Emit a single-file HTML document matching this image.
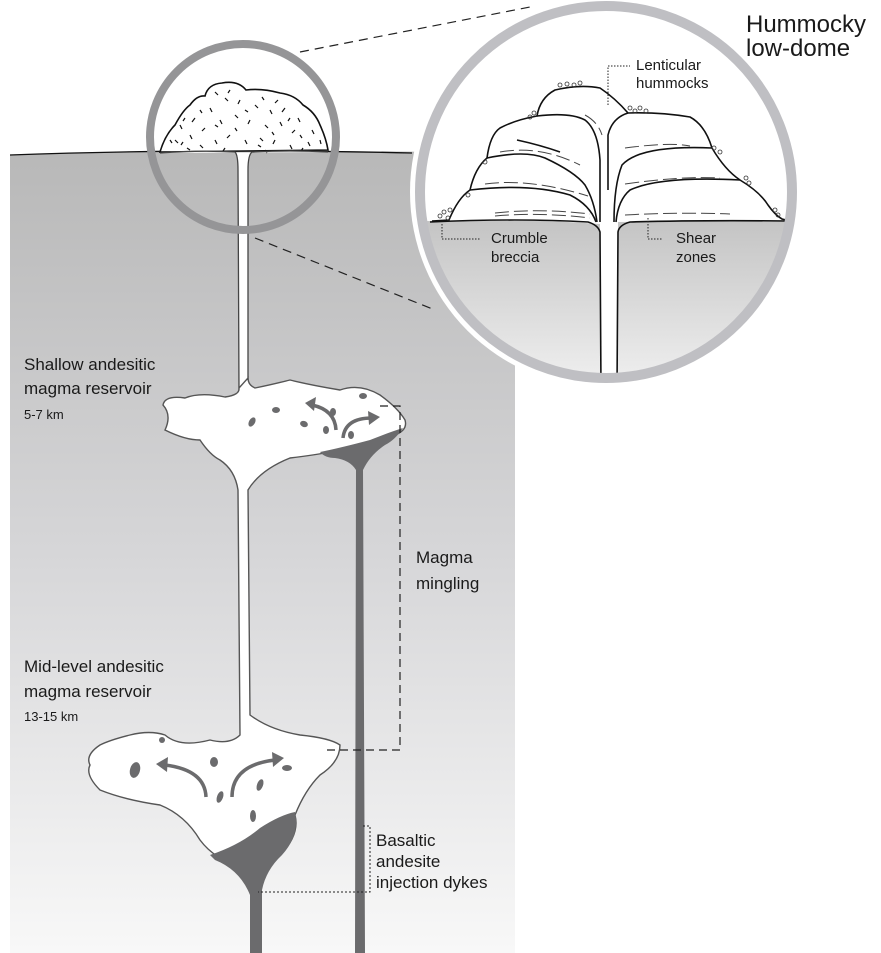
<!DOCTYPE html>
<html><head><meta charset="utf-8"><style>
html,body{margin:0;padding:0;background:#fff;}
svg{display:block;}
text{font-family:"Liberation Sans","DejaVu Sans",sans-serif;fill:#1a1a1a;}
</style></head><body>
<svg width="881" height="953" viewBox="0 0 881 953" xmlns="http://www.w3.org/2000/svg">
<defs>
<linearGradient id="crust" x1="0" y1="0" x2="0" y2="1">
<stop offset="0" stop-color="#b8b8b8"/><stop offset="0.5" stop-color="#d6d6d8"/><stop offset="1" stop-color="#f8f8f8"/>
</linearGradient>
<linearGradient id="crust2" x1="0" y1="0" x2="0" y2="1">
<stop offset="0" stop-color="#c4c4c4"/><stop offset="1" stop-color="#f4f4f4"/>
</linearGradient>
<clipPath id="bigc"><circle cx="606" cy="192" r="183"/></clipPath>
</defs>

<!-- crust -->
<path d="M10,155 Q200,148 515,153 L515,953 L10,953 Z" fill="url(#crust)"/>
<path d="M10,155 Q200,148 412,153" fill="none" stroke="#111" stroke-width="1.3"/>

<!-- dashed zoom lines -->
<line x1="300" y1="52" x2="535" y2="6" stroke="#222" stroke-width="1.2" stroke-dasharray="9,6"/>
<line x1="255" y1="238" x2="435" y2="310" stroke="#222" stroke-width="1.2" stroke-dasharray="9,6"/>

<!-- small dome -->
<path d="M160,152 Q165,135 175,125 Q183,110 190,105 Q197,95 205,96 Q208,84 222,83 Q238,80 246,90 Q262,88 280,93 Q295,95 303,105 Q315,112 320,125 Q326,138 328,150 Z" fill="#fff" stroke="#111" stroke-width="1.6"/>
<g stroke="#111" stroke-width="1.2">
<path d="M180,125l2,4M195,118l-3,4M210,108l2,4M225,98l3,3M240,100l-2,4M255,105l3,3M270,110l2,4M285,108l-3,4M298,118l2,4M312,130l2,4M175,140l3,3M190,135l2,4M205,128l-3,3M220,120l2,4M235,115l3,3M250,120l-2,4M265,125l3,3M280,122l2,4M295,130l-3,3M308,142l2,4M200,145l3,3M215,140l2,4M230,135l-3,3M245,140l2,4M260,138l3,3M275,140l-2,4M290,145l2,4M320,140l1,4M187,148l3,2M225,148l-2,3M265,150l2,3M215,92l3,3M230,90l-2,3M262,97l2,3M278,100l-3,3M200,110l2,3M245,110l3,2M290,118l-2,3M170,140l2,3M183,142l-2,3M258,145l3,2M303,148l-2,3M235,128l2,3M215,125l3,2M272,132l2,3M185,118l-2,3M300,135l2,3"/>
</g>
<!-- conduit top -->
<path d="M160,153 Q200,150 235,152 Q238,155 238,170 L239,390 L248,390 L248,170 Q248,155 252,152 Q290,150 328,152" fill="#fff" stroke="#444" stroke-width="1.3"/>
<circle cx="243" cy="137" r="93" fill="none" stroke="#959597" stroke-width="8"/>

<!-- reservoirs -->
<path d="M239,388 Q240,395 225,397 Q200,392 185,398 Q165,395 163,405 Q172,415 165,430 Q185,440 200,440 Q210,455 220,460 Q235,470 238,490 L240,735 Q230,745 210,740 Q180,748 165,735 Q150,730 130,735 Q110,740 100,745 Q85,755 90,765 Q85,775 100,790 Q125,800 160,805 Q185,815 200,840 Q215,860 240,865 Q262,870 280,855 Q300,835 295,815 Q305,790 320,775 Q340,762 340,745 Q330,738 300,735 Q270,730 250,715 L248,490 Q260,470 290,458 Q315,455 330,452 Q370,442 395,435 Q408,430 405,420 Q398,408 380,395 Q360,383 340,390 Q310,385 290,380 Q270,385 255,388 Q248,385 248,378 Z" fill="#fff" stroke="#555" stroke-width="1.4"/>
<path d="M320,452 Q340,448 370,440 Q390,432 403,428 Q395,440 385,445 Q370,455 363,470 L365,953 L355,953 L356,470 Q350,460 335,458 Q325,458 320,452 Z" fill="#6b6b6d"/>
<path d="M210,855 Q240,845 260,828 Q280,815 295,812 Q300,835 282,855 Q266,870 262,890 L262,953 L250,953 L250,895 Q240,870 215,860 Z" fill="#6b6b6d"/>

<g fill="#6b6b6d">
<ellipse cx="252" cy="422" rx="3" ry="5" transform="rotate(30 252 422)"/>
<ellipse cx="276" cy="410" rx="4" ry="3"/>
<ellipse cx="304" cy="424" rx="4" ry="3" transform="rotate(20 304 424)"/>
<ellipse cx="326" cy="430" rx="3" ry="4"/>
<ellipse cx="333" cy="412" rx="3" ry="4"/>
<ellipse cx="363" cy="396" rx="4" ry="3"/>
<ellipse cx="351" cy="435" rx="3" ry="4"/>
<ellipse cx="135" cy="770" rx="5" ry="8" transform="rotate(15 135 770)"/>
<ellipse cx="162" cy="740" rx="3" ry="3"/>
<ellipse cx="214" cy="762" rx="4" ry="5"/>
<ellipse cx="287" cy="768" rx="5" ry="3"/>
<ellipse cx="220" cy="797" rx="3" ry="6" transform="rotate(20 220 797)"/>
<ellipse cx="260" cy="785" rx="3" ry="6" transform="rotate(20 260 785)"/>
<ellipse cx="253" cy="816" rx="3" ry="6"/>
</g>
<g fill="none" stroke="#6b6b6d" stroke-width="3.5">
<path d="M336,430 Q335,410 312,405"/>
<path d="M343,438 Q345,418 372,418"/>
<path d="M206,797 Q205,770 165,765"/>
<path d="M232,797 Q232,765 275,760"/>
</g>
<g fill="#6b6b6d">
<path d="M305,403 L316,397 L314,411Z"/>
<path d="M380,417 L368,411 L369,425Z"/>
<path d="M156,764 L168,757 L167,772Z"/>
<path d="M284,758 L272,752 L273,767Z"/>
</g>

<path d="M380,406 L400,406 L400,750 L322,750" fill="none" stroke="#222" stroke-width="1.2" stroke-dasharray="8,5"/>
<path d="M363,826 L370,826 L370,892 L258,892" fill="none" stroke="#222" stroke-width="1" stroke-dasharray="2,2"/>

<!-- big circle -->
<circle cx="606" cy="192" r="196" fill="#fff"/>
<g clip-path="url(#bigc)">
<rect x="400" y="0" width="420" height="400" fill="#fff"/>
<rect x="400" y="221" width="420" height="180" fill="url(#crust2)"/>
<!-- silhouette -->
<path d="M432,221 L449,220 Q458,198 470,190 Q475,168 487,158 Q490,135 500,128 Q515,120 537,116 Q540,98 555,90 Q580,84 600,88 Q615,98 628,113 Q660,112 690,117 Q705,125 712,148 Q725,170 740,180 Q760,192 768,205 Q775,215 782,219 L790,221 Q700,220 618,222 L618,400 L600,400 L600,224 Q520,218 432,221 Z" fill="#fff"/>
<g fill="none" stroke="#111" stroke-width="1.6">
<path d="M432,221 L449,220 Q458,198 470,190 Q475,168 487,158 Q490,135 500,128 Q515,120 537,116 Q540,98 555,90 Q580,84 600,88 Q615,98 628,113 Q660,112 690,117 Q705,125 712,148 Q725,170 740,180 Q760,192 768,205 Q775,215 782,219 L790,221"/>
<path d="M430,222 Q520,218 588,222 Q598,225 600,232 L601,390"/>
<path d="M790,221 Q700,220 630,222 Q619,225 618,232 L617,390"/>
<path d="M470,190 Q530,183 570,195 Q590,205 596,222"/>
<path d="M487,158 Q525,150 545,158 Q575,172 585,185 Q594,200 597,222"/>
<path d="M537,116 Q570,112 585,120 Q598,130 600,160 L600,222"/>
<path d="M628,113 Q612,118 608,135 L608,190"/>
<path d="M712,148 Q640,145 622,165 Q614,185 614,222"/>
<path d="M740,180 Q660,176 630,190 Q618,200 616,222"/>
<path d="M517,140 Q540,145 560,152"/>
</g>
<g stroke="#444" stroke-width="1" fill="none" stroke-dasharray="14,5">
<path d="M495,216 Q540,212 590,218"/><path d="M495,213 Q540,208 590,214"/>
<path d="M485,184 Q530,178 588,196"/><path d="M500,152 Q540,145 580,165"/>
<path d="M625,215 Q680,212 730,214"/><path d="M625,184 Q680,176 720,178"/>
<path d="M625,148 Q670,142 690,146"/><path d="M585,115 Q598,122 602,135"/>
</g>
<g fill="none" stroke="#333" stroke-width="0.8">
<circle cx="440" cy="216" r="2"/><circle cx="444" cy="212" r="2"/><circle cx="448" cy="218" r="2"/><circle cx="450" cy="210" r="2"/>
<circle cx="468" cy="195" r="2"/><circle cx="485" cy="162" r="2"/><circle cx="530" cy="117" r="2"/><circle cx="534" cy="113" r="2"/>
<circle cx="560" cy="85" r="2"/><circle cx="567" cy="84" r="2"/><circle cx="574" cy="85" r="2"/><circle cx="580" cy="83" r="2"/>
<circle cx="630" cy="108" r="2"/><circle cx="635" cy="111" r="2"/><circle cx="640" cy="108" r="2"/><circle cx="646" cy="111" r="2"/>
<circle cx="714" cy="148" r="2"/><circle cx="720" cy="152" r="2"/><circle cx="746" cy="178" r="2"/><circle cx="749" cy="183" r="2"/>
<circle cx="775" cy="210" r="2"/><circle cx="778" cy="215" r="2"/>
</g>
<g stroke="#222" stroke-width="1" stroke-dasharray="1.5,1.5" fill="none">
<path d="M442,224 L442,239 L480,239"/>
<path d="M608,105 L608,66 L630,66"/>
<path d="M648,218 L648,239 L663,239"/>
</g>
</g>
<circle cx="606" cy="192" r="186" fill="none" stroke="#bfbfc3" stroke-width="10"/>

<text x="746" y="32" font-size="24">Hummocky</text>
<text x="746" y="56" font-size="24">low-dome</text>
<text x="636" y="70" font-size="15">Lenticular</text>
<text x="636" y="88" font-size="15">hummocks</text>
<text x="491" y="243" font-size="15">Crumble</text>
<text x="491" y="262" font-size="15">breccia</text>
<text x="676" y="243" font-size="15">Shear</text>
<text x="676" y="262" font-size="15">zones</text>

<text x="24" y="370" font-size="17">Shallow andesitic</text>
<text x="24" y="394" font-size="17">magma reservoir</text>
<text x="24" y="419" font-size="13">5-7 km</text>
<text x="24" y="672" font-size="17">Mid-level andesitic</text>
<text x="24" y="697" font-size="17">magma reservoir</text>
<text x="24" y="721" font-size="13">13-15 km</text>
<text x="416" y="563" font-size="17">Magma</text>
<text x="416" y="589" font-size="17">mingling</text>
<text x="376" y="846" font-size="17">Basaltic</text>
<text x="376" y="867" font-size="17">andesite</text>
<text x="376" y="888" font-size="17">injection dykes</text>
</svg>
</body></html>
